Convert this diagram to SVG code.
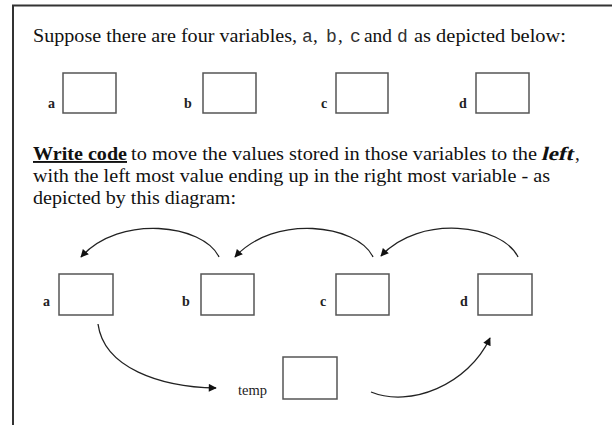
<svg xmlns="http://www.w3.org/2000/svg" width="612" height="425" viewBox="0 0 612 425">
<defs>
<style>
.t{font-family:"Liberation Serif",serif;font-size:19px;fill:#111}
.m{font-family:"Liberation Mono",monospace;font-size:18px;fill:#333}
.lb{font-family:"Liberation Serif",serif;font-size:14px;font-weight:bold;fill:#222}
.lt{font-family:"Liberation Serif",serif;font-size:14px;fill:#222}
.box{fill:#fff;stroke:#555;stroke-width:1.5}
.c{fill:none;stroke:#222;stroke-width:1.3}
</style>
<marker id="ah" viewBox="0 0 10 10" refX="9" refY="5" markerWidth="9" markerHeight="8" markerUnits="userSpaceOnUse" orient="auto">
<path d="M0,0 L10,5 L0,10 z" fill="#111"/>
</marker>
</defs>
<rect width="612" height="425" fill="#fff"/>
<path d="M13,425 V5.5 H612" fill="none" stroke="#333" stroke-width="2"/>
<text class="t" x="33" y="42" textLength="264" lengthAdjust="spacingAndGlyphs">Suppose there are four variables,</text>
<text class="m" x="302" y="42">a</text>
<text class="t" x="313" y="42">,</text>
<text class="m" x="326" y="42">b</text>
<text class="t" x="338" y="42">,</text>
<text class="m" x="350" y="42">c</text>
<text class="t" x="364" y="42" textLength="28" lengthAdjust="spacingAndGlyphs">and</text>
<text class="m" x="397" y="42">d</text>
<text class="t" x="414" y="42" textLength="152" lengthAdjust="spacingAndGlyphs">as depicted below:</text>
<g id="top-a"><text class="lb" x="48" y="108">a</text><rect class="box" x="63" y="73" width="53" height="40"/></g>
<g id="top-b"><text class="lb" x="184" y="108">b</text><rect class="box" x="203" y="73" width="53" height="40"/></g>
<g id="top-c"><text class="lb" x="321" y="108">c</text><rect class="box" x="336" y="73" width="52" height="40"/></g>
<g id="top-d"><text class="lb" x="459" y="108">d</text><rect class="box" x="476" y="73" width="53" height="40"/></g>
<text class="t" x="33" y="160" textLength="94" lengthAdjust="spacingAndGlyphs" font-weight="bold" text-decoration="underline">Write code</text>
<text class="t" x="131" y="160" textLength="406" lengthAdjust="spacingAndGlyphs">to move the values stored in those variables to the</text>
<text class="t" transform="translate(541,160) skewX(-14)" x="0" y="0" textLength="32" lengthAdjust="spacingAndGlyphs" font-weight="bold">left</text>
<text class="t" x="575" y="160">,</text>
<text class="t" x="33" y="182" textLength="517" lengthAdjust="spacingAndGlyphs">with the left most value ending up in the right most variable - as</text>
<text class="t" x="33" y="204" textLength="203" lengthAdjust="spacingAndGlyphs">depicted by this diagram:</text>
<g id="a"><text class="lb" x="43" y="306">a</text><rect class="box" x="59" y="274" width="54" height="41"/></g>
<g id="b"><text class="lb" x="182" y="306">b</text><rect class="box" x="201" y="274" width="53" height="41"/></g>
<g id="c"><text class="lb" x="320" y="306">c</text><rect class="box" x="336" y="274" width="53" height="41"/></g>
<g id="d"><text class="lb" x="460" y="306">d</text><rect class="box" x="478" y="274" width="54" height="41"/></g>
<g id="temp"><text class="lt" x="238" y="395" textLength="29" lengthAdjust="spacingAndGlyphs">temp</text><rect class="box" x="283" y="357" width="54" height="42"/></g>
<g id="connectors">
<path class="c" marker-end="url(#ah)" d="M219,257 C203,224 120,214 81,257"/>
<path class="c" marker-end="url(#ah)" d="M373,257 C357,224 274,214 235,257"/>
<path class="c" marker-end="url(#ah)" d="M518,257 C502,224 419,214 381,256"/>
<path class="c" marker-end="url(#ah)" d="M98,324 C104,368 160,387 216,388"/>
<path class="c" marker-end="url(#ah)" d="M371,392 C410,408 468,385 490,338"/>
</g>
</svg>
